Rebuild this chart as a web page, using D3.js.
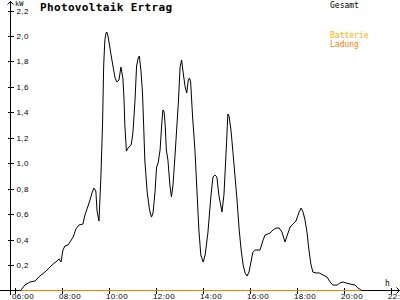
<!DOCTYPE html>
<html>
<head>
<meta charset="utf-8">
<script src="https://cdn.jsdelivr.net/npm/d3@7"></script>
<style>
body { margin:0; background:#fff; }
svg { display:block; font-family:"DejaVu Sans Mono", monospace; }
.tick text { font-size:8px; letter-spacing:0.4px; fill:#000; }
</style>
</head>
<body>
<svg id="graph"></svg>
<script>
// Gesamt (kW)
var gesamtZeit = ["06:18","06:28","06:41","06:54","07:06","07:19","07:32","07:40","07:50","07:55",
    "08:00","08:05","08:10","08:18","08:23","08:31","08:38","08:46","08:56","09:01",
    "09:09","09:14","09:19","09:24","09:29","09:32","09:37","09:42","09:46","09:49",
    "09:52","09:55","09:57","10:00","10:05","10:10","10:18","10:23","10:28","10:33",
    "10:38","10:41","10:43","10:47","10:51","10:59","11:03","11:05","11:09","11:13",
    "11:17","11:20","11:24","11:28","11:31","11:34","11:40","11:46","11:51","11:55",
    "12:00","12:04","12:08","12:13","12:17","12:20","12:23","12:26","12:29","12:33",
    "12:38","12:42","12:46","12:52","13:00","13:04","13:08","13:12","13:17","13:21",
    "13:25","13:28","13:31","13:36","13:42","13:47","13:52","13:57","14:03","14:08",
    "14:15","14:23","14:28","14:33","14:38","14:43","14:51","14:56","14:59","15:03",
    "15:06","15:09","15:14","15:19","15:24","15:29","15:35","15:40","15:45","15:50",
    "15:55","16:00","16:05","16:10","16:15","16:23","16:28","16:36","16:41","16:48",
    "16:54","17:01","17:09","17:17","17:24","17:32","17:37","17:45","17:52","18:00",
    "18:08","18:13","18:18","18:23","18:28","18:33","18:38","18:43","18:51","18:59",
    "19:09","19:19","19:27","19:34","19:45","19:52","20:00","20:08","20:18","20:31",
    "20:38","20:46"];
var gesamtWert = [0,0.04,0.063,0.071,0.11,0.141,0.181,0.204,0.228,0.244,
    0.22,0.314,0.346,0.354,0.377,0.416,0.479,0.511,0.518,0.589,
    0.66,0.707,0.762,0.801,0.778,0.621,0.542,0.903,1.296,1.767,
    1.964,2.019,2.027,1.995,1.901,1.807,1.665,1.634,1.65,1.752,
    1.665,1.493,1.296,1.092,1.115,1.139,1.218,1.296,1.493,1.76,
    1.822,1.838,1.728,1.555,1.296,1.021,0.77,0.628,0.573,0.605,
    0.77,0.966,0.998,1.1,1.296,1.414,1.406,1.296,1.1,1.021,
    0.825,0.731,0.825,1.1,1.493,1.752,1.807,1.705,1.595,1.548,
    1.65,1.665,1.634,1.359,1.1,0.786,0.471,0.275,0.22,0.275,
    0.448,0.746,0.888,0.903,0.888,0.746,0.613,0.746,0.927,1.178,
    1.383,1.367,1.257,1.084,0.903,0.723,0.471,0.314,0.196,0.134,
    0.11,0.141,0.22,0.299,0.314,0.314,0.314,0.393,0.432,0.44,
    0.448,0.471,0.487,0.487,0.456,0.377,0.424,0.495,0.518,0.542,
    0.613,0.644,0.613,0.55,0.456,0.314,0.204,0.141,0.134,0.134,
    0.118,0.102,0.063,0.039,0.039,0.055,0.063,0.055,0.047,0.039,
    0.016,0];

// Ladung (kW)
var ladungZeit = ["06:18","20:46"];
var ladungWert = [0,0];

var yTicks = [0.2,0.4,0.6,0.8,1.0,1.2,1.4,1.6,1.8,2.0,2.2];
var yLabels = ["0,2","0,4","0,6","0,8","1,0","1,2","1,4","1,6","1,8","2,0","2,2"];
var xTicks = [6,8,10,12,14,16,18,20,22];

var toHours = function(s)
{
    var p = s.split(":");
    return +p[0] + p[1]/60;
}

var initGraph = function()
{
    var screen = {width:400, height:300}

    var svg = d3.select("#graph")
        .attr("width", screen.width)
        .attr("height", screen.height)

    var xScale = d3.scaleLinear()
        .domain([6, 22])
        .range([14, 390])

    var yScale = d3.scaleLinear()
        .domain([0, 2.2])
        .range([290, 10])

    // y axis ticks + labels
    var yAxis = d3.axisRight(yScale)
        .tickValues(yTicks)
        .tickFormat(function(d, i) { return yLabels[i]; })
        .tickSize(6)
        .tickSizeOuter(0)
        .tickPadding(3)
    var gy = svg.append("g")
        .attr("transform", "translate(7.5,0.5)")
        .call(yAxis)
    gy.select(".domain").remove()
    gy.selectAll("line").attr("stroke", "#000").attr("shape-rendering", "crispEdges")
    gy.selectAll("text").attr("dy", "0.32em")

    // x axis ticks + labels
    var xAxis = d3.axisBottom(xScale)
        .tickValues(xTicks)
        .tickFormat(function(d) { return (d < 10 ? "0" : "") + d + ":00"; })
        .tickSize(6)
        .tickSizeOuter(0)
        .tickPadding(0)
    var gx = svg.append("g")
        .attr("transform", "translate(0.5,287.5)")
        .call(xAxis)
    gx.select(".domain").remove()
    gx.selectAll("line").attr("stroke", "#000").attr("shape-rendering", "crispEdges")
    gx.selectAll("text")
        .attr("text-anchor", "start")
        .attr("x", -3)

    // axis lines and arrows
    svg.append("line")
        .attr("x1", 10.5).attr("x2", 10.5)
        .attr("y1", 1).attr("y2", 295)
        .attr("stroke", "#000").attr("shape-rendering", "crispEdges")
    svg.append("line")
        .attr("x1", 0).attr("x2", 399)
        .attr("y1", 290.5).attr("y2", 290.5)
        .attr("stroke", "#000").attr("shape-rendering", "crispEdges")
    svg.append("path")
        .attr("d", "M7.5,4.5L10.5,1.5L13.5,4.5")
        .attr("fill", "none").attr("stroke", "#000")
    svg.append("path")
        .attr("d", "M396.5,287.5L399.5,290.5L396.5,293.5")
        .attr("fill", "none").attr("stroke", "#000")

    svg.append("text")
        .attr("x", 15).attr("y", 6)
        .style("font-size", "7px")
        .text("kW")
    svg.append("text")
        .attr("x", 385).attr("y", 285.5)
        .style("font-size", "8px")
        .text("h")

    var line = d3.line()
        .x(function(d) { return xScale(toHours(d[0])); })
        .y(function(d) { return yScale(d[1]); })

    var gesamt = d3.zip(gesamtZeit, gesamtWert)
    var ladung = d3.zip(ladungZeit, ladungWert)

    svg.append("path")
        .datum(gesamt)
        .attr("d", line)
        .attr("fill", "none")
        .attr("stroke", "#000")
        .attr("stroke-width", 1)

    svg.append("path")
        .datum(ladung)
        .attr("d", line)
        .attr("transform", "translate(0,0.5)")
        .attr("fill", "none")
        .attr("stroke", "#ff8000")
        .attr("stroke-width", 1)
        .attr("shape-rendering", "crispEdges")

    // title + legend
    svg.append("text")
        .attr("x", 40).attr("y", 11)
        .style("font-size", "11px")
        .style("font-weight", "bold")
        .style("letter-spacing", "0.35px")
        .text("Photovoltaik Ertrag")
    svg.append("text")
        .attr("x", 330).attr("y", 7.5)
        .style("font-size", "8px")
        .attr("fill", "#000")
        .text("Gesamt")
    svg.append("text")
        .attr("x", 330).attr("y", 38)
        .style("font-size", "8px")
        .attr("fill", "#ffb000")
        .text("Batterie")
    svg.append("text")
        .attr("x", 330).attr("y", 46.5)
        .style("font-size", "8px")
        .attr("fill", "#ff8000")
        .text("Ladung")
}

initGraph();
</script>
</body>
</html>
